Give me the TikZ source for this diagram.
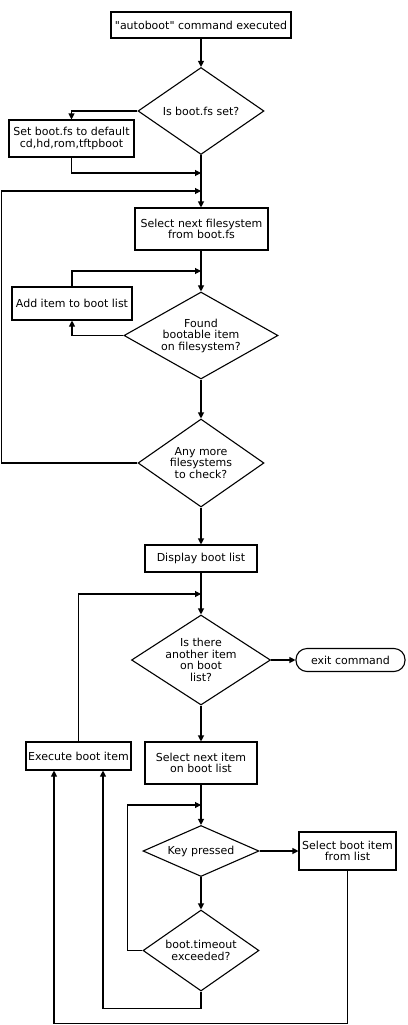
\documentclass[tikz,border=0pt]{standalone}
\usepackage{fontspec}
\setmainfont{DejaVu Sans}[Ligatures=TeXOff]
\usetikzlibrary{arrows.meta,shapes.geometric}

\begin{document}
\begin{tikzpicture}[
    x=1pt,y=-1pt,
    line width=1.1pt,
    >={Triangle[length=6pt,width=6pt]},
    every node/.style={font=\fontsize{11}{11.5}\selectfont,align=center},
    proc/.style={draw,rectangle,inner sep=1pt},
    decision/.style={draw,diamond,inner sep=0pt},
    term/.style={draw,rectangle,rounded corners=11pt,inner sep=1pt}
  ]
  \useasboundingbox (0,0) rectangle (407,1025);

  % filesystem scan
  \node[proc,minimum width=180pt,minimum height=26pt] (start) at (201,25) {"autoboot" command executed};
  \node[decision,aspect=1.45,minimum width=126pt,minimum height=87pt] (isfs) at (201,111) {Is boot.fs set?};
  \node[proc,minimum width=125pt,minimum height=37pt] (setfs) at (71.5,138.5) {Set boot.fs to default\\cd,hd,rom,tftpboot};
  \node[proc,minimum width=133pt,minimum height=42pt] (nextfs) at (201.5,229) {Select next filesystem\\from boot.fs};
  \node[proc,minimum width=120pt,minimum height=33pt] (additem) at (72,303.5) {Add item to boot list};
  \node[decision,aspect=1.77,minimum width=154pt,minimum height=87pt] (found) at (201,335.5) {Found\\bootable item\\on filesystem?};
  \node[decision,aspect=1.43,minimum width=126pt,minimum height=88pt] (anymore) at (201,463) {Any more\\filesystems\\to check?};

  % boot list
  \node[proc,minimum width=112pt,minimum height=27pt] (display) at (201,558.5) {Display boot list};
  \node[decision,aspect=1.54,minimum width=139pt,minimum height=90pt,inner sep=-3pt] (another) at (201,660) {Is there\\another item\\on boot\\list?};
  \node[term,minimum width=109pt,minimum height=23pt] (exit) at (350.5,660) {exit command};
  \node[proc,minimum width=105pt,minimum height=28pt] (execute) at (78.5,756) {Execute boot item};
  \node[proc,minimum width=112pt,minimum height=42pt] (nextitem) at (201,763) {Select next item\\on boot list};
  \node[decision,aspect=2.27,minimum width=116pt,minimum height=51pt] (keypressed) at (201,851) {Key pressed};
  \node[proc,minimum width=97pt,minimum height=38pt] (selitem) at (347.5,851) {Select boot item\\from list};
  \node[decision,aspect=1.43,minimum width=116pt,minimum height=81pt] (timeout) at (201,950.5) {boot.timeout\\exceeded?};

  % junctions on the main line
  \coordinate (j1) at (201,173);
  \coordinate (j2) at (201,191);
  \coordinate (j3) at (201,271);
  \coordinate (j4) at (201,594);
  \coordinate (j5) at (201,805);

  \draw[->] (start) -- (isfs);
  \draw[->] (isfs.west) -| (setfs.north);
  \draw[->] (setfs.south) |- (j1);
  \draw[->] (isfs.south) -- (nextfs.north -| isfs.south);
  \draw[->] (anymore.west) -- ++(-136,0) |- (j2);
  \draw[->] (nextfs.south -| found.north) -- (found);
  \draw[->] (found.west) -| (additem.south);
  \draw[->] (additem.north) |- (j3);
  \draw[->] (found) -- (anymore);
  \draw[->] (anymore) -- (display);
  \draw[->] (display) -- (another);
  \draw[->] (another.east) -- (exit.west);
  \draw[->] (another) -- (nextitem);
  \draw[->] (execute.north) |- (j4);
  \draw[->] (nextitem) -- (keypressed);
  \draw[->] (keypressed.east) -- (selitem.west);
  \draw[->] (keypressed) -- (timeout);
  \draw[->] (timeout.west) -- ++(-15,0) |- (j5);
  \draw[->] (timeout.south) -- ++(0,17) -| ([xshift=24.5pt]execute.south);
  \draw[->] (selitem.south) -- ++(0,153) -| ([xshift=-24.5pt]execute.south);
\end{tikzpicture}
\end{document}
